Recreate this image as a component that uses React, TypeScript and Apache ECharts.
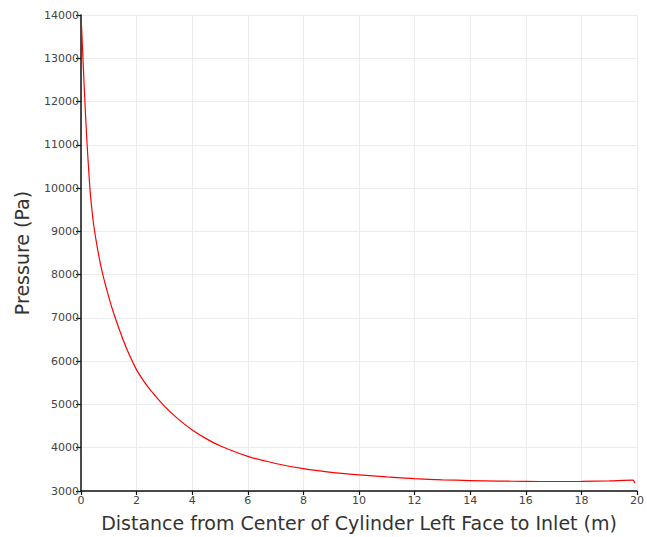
import React, { useEffect, useRef } from "react";
import * as echarts from "echarts";

// Distance from the cylinder's left face (m) and static pressure (Pa)
const distance: number[] = [
  0.02, 0.07, 0.14, 0.22, 0.32, 0.38, 0.46, 0.6, 0.76, 1.0, 1.2, 1.5, 1.75, 2.0, 2.25,
  2.5, 3.0, 3.5, 4.0, 4.5, 5.0, 6.0, 7.0, 8.0, 9.0, 10.0, 11.0, 12.0, 13.0, 14.0, 15.0,
  16.0, 17.0, 18.0, 19.0, 19.86, 19.92,
];
const pressure: number[] = [
  13750, 13000, 12000, 11000, 10000, 9580, 9130, 8580, 8070, 7480, 7060, 6520, 6130,
  5800, 5545, 5330, 4960, 4660, 4410, 4210, 4045, 3800, 3635, 3515, 3432, 3374, 3325,
  3285, 3258, 3242, 3230, 3222, 3219, 3222, 3234, 3250, 3180,
];

const xTicks = { min: 0, max: 20, interval: 2 };
const yTicks = { min: 3000, max: 14000, interval: 1000 };

const FONT = "DejaVu Sans";

export default function App() {
  const ref = useRef<HTMLDivElement>(null);

  useEffect(() => {
    if (!ref.current) return;
    const chart = echarts.init(ref.current, undefined, { renderer: "svg" });
    const points = distance.map((d, i) => [d, pressure[i]]);
    chart.setOption({
      animation: false,
      backgroundColor: "#ffffff",
      grid: { left: 81, right: 6, top: 15, bottom: 44, containLabel: false },
      xAxis: {
        type: "value",
        ...xTicks,
        name: "Distance from Center of Cylinder Left Face to Inlet (m)",
        nameLocation: "middle",
        nameGap: 22,
        nameTextStyle: { fontFamily: FONT, fontSize: 19, color: "#333" },
        axisLine: { show: true, lineStyle: { color: "#111", width: 1.5 } },
        axisTick: { show: true, length: 4, lineStyle: { color: "#111", width: 1.2 } },
        axisLabel: { fontFamily: FONT, fontSize: 11, color: "#444", margin: 4 },
        splitLine: { show: true, lineStyle: { color: "#ececec", width: 1 } },
      },
      yAxis: {
        type: "value",
        ...yTicks,
        name: "Pressure (Pa)",
        nameLocation: "middle",
        nameGap: 50,
        nameRotate: 90,
        nameTextStyle: { fontFamily: FONT, fontSize: 19, color: "#333" },
        axisLine: { show: true, lineStyle: { color: "#111", width: 1.5 } },
        axisTick: { show: true, length: 5, lineStyle: { color: "#111", width: 1.2 } },
        axisLabel: {
          fontFamily: FONT,
          fontSize: 11,
          color: "#444",
          margin: 2,
          formatter: (v: number) => String(v),
        },
        splitLine: { show: true, lineStyle: { color: "#ececec", width: 1 } },
      },
      series: [
        {
          type: "line",
          data: points,
          showSymbol: false,
          smooth: 0.25,
          lineStyle: { color: "#ff0000", width: 1.2 },
        },
      ],
    });
    return () => chart.dispose();
  }, []);

  return (
    <div
      ref={ref}
      style={{ position: "fixed", left: 0, top: 0, width: 647, height: 537, background: "#fff" }}
    />
  );
}
